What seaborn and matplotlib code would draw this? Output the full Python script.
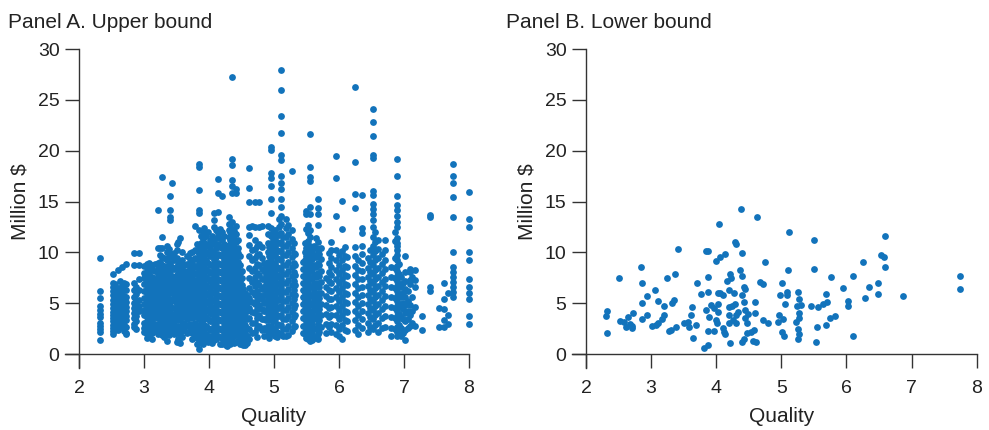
import pandas as pd
import seaborn as sns
import matplotlib
matplotlib.use("Agg")
import matplotlib.pyplot as plt

# ------------------------------------------------------------
# Panel A : upper bound (points grouped by quality column)
# ------------------------------------------------------------
a_quality = [2.33, 2.52, 2.60, 2.66, 2.72, 2.85, 2.93, 3.05, 3.12, 3.22,
             3.27, 3.35, 3.40, 3.43, 3.50, 3.56, 3.62, 3.70, 3.78, 3.85,
             3.90, 3.96, 4.02, 4.08, 4.14, 4.20, 4.26, 4.31, 4.36, 4.42,
             4.47, 4.53, 4.58, 4.62, 4.70, 4.77, 4.85, 4.90, 4.95, 5.02,
             5.07, 5.11, 5.18, 5.27, 5.33, 5.45, 5.50, 5.55, 5.61, 5.67,
             5.72, 5.80, 5.88, 5.96, 6.05, 6.12, 6.24, 6.36, 6.44, 6.53,
             6.60, 6.71, 6.80, 6.89, 6.96, 7.02, 7.10, 7.17, 7.28, 7.40,
             7.54, 7.62, 7.67, 7.75, 8.00]
a_million = [
    [9.4, 6.2, 5.5, 4.7, 4.3, 3.9, 3.6, 3.1, 2.8, 2.5, 2.2, 1.4],
    [7.9, 7.0, 6.6, 6.2, 5.8, 5.3, 4.9, 4.5, 4.1, 3.8, 3.5, 3.2, 2.9, 2.6, 2.3, 2.0],
    [8.3, 6.5, 6.0, 5.4, 5.0, 4.5, 4.1, 3.8, 3.3, 2.9, 2.4],
    [8.6, 6.8, 5.9, 5.3, 4.8, 4.4, 3.9, 3.5, 3.0],
    [8.9, 6.9, 6.3, 5.6, 5.1, 4.6, 4.2, 3.7, 3.3, 2.7, 2.1, 2.0],
    [9.9, 8.8, 7.0, 6.3, 5.6, 5.0, 4.5, 4.0, 3.5, 3.0, 2.7],
    [9.9, 8.8, 7.4, 6.3, 5.3, 4.7, 4.2],
    [8.9, 8.6, 8.1, 7.7, 7.3, 6.8, 6.4, 6.0, 5.6, 5.2, 4.8, 4.4, 4.0, 3.6, 3.2, 2.8, 2.4, 2.0, 1.6],
    [8.8, 8.3, 7.6, 7.1, 6.6, 6.2, 5.7, 5.3, 4.9, 4.5, 4.1, 3.7, 3.3, 2.9, 2.5, 2.1, 1.5],
    [14.2, 10.4, 9.0, 8.4, 7.8, 7.2, 6.6, 6.0, 5.5, 5.0, 4.5, 4.0, 3.5, 3.0, 2.5, 2.0],
    [17.4, 11.5, 10.4, 9.5, 8.8, 8.1, 7.4, 6.8, 6.1, 5.5, 4.9, 4.3, 3.7, 3.1, 2.5, 1.9],
    [10.6, 10.0, 9.2, 8.5, 7.9, 7.2, 6.6, 6.0, 5.4, 4.8, 4.2, 3.6, 3.0, 2.4, 1.3],
    [15.5, 14.2, 13.5, 13.2, 9.8, 9.0, 8.2, 7.5, 6.8, 6.1, 5.4, 4.7, 4.0, 3.3, 2.6],
    [16.8, 9.5, 8.6, 7.7, 6.9, 6.1, 5.3, 4.5, 3.7, 2.9, 2.1],
    [10.8, 10.2, 9.4, 8.6, 7.8, 7.0, 6.3, 5.6, 4.9, 4.2, 3.5, 2.8, 2.2, 1.2],
    [11.4, 9.0, 8.2, 7.5, 6.8, 6.1, 5.4, 4.7, 4.0, 3.3, 2.6, 1.9, 1.1],
    [8.8, 8.0, 7.3, 6.6, 5.9, 5.2, 4.5, 3.8, 3.1, 2.4],
    [9.9, 9.3, 8.6, 7.9, 7.2, 6.5, 5.8, 5.1, 4.4, 3.7, 3.0, 2.3],
    [12.6, 10.2, 9.4, 8.7, 8.0, 7.3, 6.6, 5.9, 5.2, 4.5, 3.8, 3.1, 2.4, 1.8],
    [18.7, 18.4, 16.1, 14.2, 13.9, 12.2, 10.6, 9.8, 9.0, 8.3, 7.6, 6.9, 6.2, 5.5, 4.8, 4.1, 3.4, 2.7, 2.0, 1.4, 0.5],
    [12.0, 11.3, 10.5, 9.7, 8.9, 8.1, 7.3, 6.5, 5.7, 4.9, 4.1, 3.3, 2.5, 1.7, 1.0],
    [11.6, 10.8, 10.0, 9.2, 8.4, 7.6, 6.8, 6.0, 5.2, 4.4, 3.6, 2.8, 2.0, 1.3],
    [11.2, 10.4, 9.6, 8.8, 8.0, 7.2, 6.4, 5.6, 4.8, 4.0, 3.2, 2.4, 1.6],
    [13.9, 13.2, 12.5, 11.0, 10.0, 9.2, 8.4, 7.6, 6.8, 6.0, 5.2, 4.4, 3.6, 2.8, 2.0, 1.4],
    [17.2, 15.8, 14.0, 11.9, 10.8, 9.8, 9.0, 8.2, 7.4, 6.6, 5.8, 5.0, 4.2, 3.4, 2.6, 1.8],
    [15.5, 12.0, 11.2, 10.4, 9.6, 8.8, 8.0, 7.2, 6.4, 5.6, 4.8, 4.0, 3.2, 2.4, 1.6, 1.0],
    [10.6, 9.9, 9.1, 8.3, 7.5, 6.7, 5.9, 5.1, 4.3, 3.5, 2.7, 1.9, 1.2, 0.9],
    [13.5, 12.8, 12.2, 11.5, 10.7, 9.9, 9.1, 8.3, 7.5, 6.7, 5.9, 5.1, 4.3, 3.5, 2.7, 1.9, 1.1],
    [27.2, 19.2, 18.6, 17.1, 16.5, 15.8, 13.0, 12.3, 11.6, 10.9, 10.2, 9.4, 8.6, 7.8, 7.0, 6.2, 5.4, 4.6, 3.8, 3.0, 2.2, 1.4],
    [16.2, 15.8, 12.6, 11.8, 11.0, 10.2, 9.4, 8.6, 7.8, 7.0, 6.2, 5.4, 4.6, 3.8, 3.0, 2.2, 1.2],
    [9.6, 8.8, 8.0, 7.2, 6.4, 5.6, 4.8, 4.0, 3.2, 2.4, 1.6, 1.0],
    [6.4, 5.6, 4.8, 4.0, 3.2, 2.4, 1.6, 0.9],
    [5.8, 5.0, 4.2, 3.4, 2.6, 1.8, 1.1],
    [18.3, 16.3, 15.0, 12.5, 11.7, 10.7, 9.6, 8.5, 7.5, 6.5, 5.5, 4.5, 3.5, 2.5, 1.5],
    [15.0, 12.5, 11.2, 10.3, 9.4, 8.5, 7.6, 6.7, 5.8, 4.9, 4.0, 3.1, 2.2],
    [15.0, 12.5, 10.8, 9.8, 8.8, 7.8, 6.8, 5.8, 4.8, 3.8, 2.8],
    [9.0, 8.2, 7.4, 6.6, 5.8, 5.0, 4.2, 3.4, 2.6, 1.8],
    [12.6, 11.8, 10.9, 10.0, 9.1, 8.2, 7.3, 6.4, 5.5, 4.6, 3.7, 2.8, 1.9],
    [20.4, 20.1, 17.8, 17.3, 16.5, 15.2, 13.9, 12.4, 11.6, 10.8, 10.0, 9.2, 8.4, 7.6, 6.8, 6.0, 5.2, 4.4, 3.6, 2.8, 2.0],
    [12.2, 11.4, 10.6, 9.8, 9.0, 8.2, 7.4, 6.6, 5.8, 5.0, 4.2, 3.4, 2.6, 1.8],
    [13.3, 12.5, 11.7, 10.9, 10.1, 9.3, 8.5, 7.7, 6.9, 6.1, 5.3, 4.5, 3.7, 2.9, 2.1],
    [27.9, 26.0, 23.4, 21.7, 19.6, 19.1, 17.5, 16.8, 16.2, 15.2, 14.5, 13.6, 12.8, 11.9, 11.0, 10.1, 9.2, 8.3, 7.4, 6.5, 5.6, 4.7, 3.8, 2.9, 2.0],
    [13.3, 12.4, 11.5, 10.6, 9.7, 8.8, 7.9, 7.0, 6.1, 5.2, 4.3, 3.4, 2.5, 1.8],
    [18.0, 12.2, 11.3, 10.4, 9.5, 8.6, 7.7, 6.8, 5.9, 5.0, 4.1, 3.2, 2.3],
    [9.8, 8.8, 7.8, 6.8, 5.8, 4.8, 3.8, 2.8],
    [9.1, 8.4, 7.7, 7.0, 6.3, 5.6, 4.9, 4.2, 3.5, 2.8, 2.1],
    [14.1, 13.8, 12.3, 10.4, 9.6, 8.8, 8.0, 7.2, 6.4, 5.6, 4.8, 4.0, 3.2, 2.4, 1.6],
    [21.6, 18.4, 17.4, 17.0, 14.5, 13.8, 12.2, 11.5, 10.6, 9.8, 9.0, 8.2, 7.4, 6.6, 5.8, 5.0, 4.2, 3.4, 2.6, 1.8, 1.3],
    [10.6, 9.7, 8.8, 7.9, 7.0, 6.1, 5.2, 4.3, 3.4, 2.5, 1.6],
    [15.2, 14.4, 13.8, 12.7, 11.0, 10.0, 9.0, 8.0, 7.0, 6.0, 5.0, 4.0, 3.0, 2.0, 1.5],
    [10.4, 9.3, 8.2, 7.1, 6.0, 4.9, 3.8, 2.7],
    [7.5, 6.6, 5.7, 4.8, 3.9, 3.0, 2.1],
    [11.0, 10.2, 9.4, 8.6, 7.8, 7.0, 6.2, 5.4, 4.6, 3.8, 3.0, 2.2],
    [19.5, 17.3, 13.6, 10.2, 9.2, 8.3, 7.4, 6.5, 5.6, 4.7, 3.8, 2.9, 2.0],
    [15.1, 12.3, 10.1, 9.2, 8.3, 7.4, 6.5, 5.6, 4.7, 3.8, 2.9, 1.5],
    [9.5, 8.6, 7.7, 6.8, 5.9, 5.0, 4.1, 3.2, 2.3],
    [26.3, 18.9, 15.7, 14.4, 10.5, 9.6, 8.7, 7.8, 6.9, 6.0, 5.1, 4.2, 3.3, 2.4],
    [15.6, 12.4, 11.9, 10.6, 9.8, 9.0, 8.2, 7.4, 6.6, 5.8, 5.0, 4.2, 3.4, 2.6],
    [9.4, 8.5, 7.6, 6.7, 5.8, 4.9, 4.0, 3.1, 2.2],
    [24.1, 22.8, 21.4, 19.6, 19.3, 16.0, 15.6, 14.8, 14.3, 13.8, 13.2, 12.5, 11.5, 10.6, 9.7, 8.8, 7.9, 7.0, 6.1, 5.2, 4.3, 3.4, 2.5],
    [11.2, 10.3, 9.4, 8.5, 7.6, 6.7, 5.8, 4.9, 4.0, 3.1, 2.2],
    [11.2, 10.2, 9.2, 8.4, 7.4, 6.7, 5.7, 4.7, 3.7, 2.7],
    [8.6, 7.6, 6.6, 5.6, 4.6, 3.6, 2.6, 1.8],
    [19.2, 17.5, 15.5, 14.7, 14.2, 13.6, 13.0, 12.5, 11.4, 10.9, 10.6, 10.2, 9.7, 9.2, 8.7, 8.2, 7.7, 7.2, 6.7, 6.2, 5.7, 5.2, 4.7, 4.2, 3.7, 3.2, 2.7, 2.2, 1.8],
    [7.6, 6.6, 5.6, 4.6, 3.6, 2.6, 1.8],
    [9.6, 8.1, 7.2, 6.4, 5.6, 4.8, 4.0, 3.2, 2.4, 1.4],
    [8.4, 8.1, 7.3, 6.9, 4.8, 3.8, 2.8],
    [8.3, 7.3, 6.6, 4.6, 2.8],
    [3.7, 2.4],
    [13.7, 13.5, 6.6, 6.2],
    [4.5, 2.7],
    [7.0, 5.4, 4.4, 3.3, 2.7],
    [6.0, 3.8, 3.0],
    [18.7, 17.5, 16.8, 15.4, 13.5, 10.0, 8.6, 8.1, 7.6, 7.1, 6.6, 6.1, 5.6],
    [15.9, 13.3, 12.5, 10.0, 9.2, 7.4, 6.6, 6.0, 5.4, 3.7, 3.0],
]

# extra columns filling the dense band of panel A
a2_quality = [2.55, 2.63, 2.69, 2.88, 3.00, 3.08, 3.17, 3.25, 3.31, 3.38,
              3.46, 3.53, 3.59, 3.66, 3.74, 3.81, 3.87, 3.93, 3.99, 4.05,
              4.11, 4.17, 4.23, 4.28, 4.33, 4.39, 4.45, 4.50, 4.56, 4.66,
              4.74, 4.81, 4.88, 4.92, 4.98, 5.05, 5.14, 5.22, 5.30,
              5.48, 5.53, 5.58, 5.64, 5.70, 5.84, 6.00, 6.09,
              6.30, 6.48, 6.56, 6.66, 6.86, 6.92, 6.99,
              7.06, 7.13]
a2_million = [
    [6.9, 6.3, 5.6, 5.1, 4.6, 4.2, 3.7, 3.3, 2.8, 2.4],
    [7.2, 6.2, 5.7, 4.9, 4.3, 3.6, 3.1, 2.7],
    [7.0, 6.4, 5.7, 5.2, 4.7, 4.0, 3.4, 2.9, 2.3],
    [6.6, 5.9, 5.3, 4.8, 4.2, 3.7, 3.2, 2.5],
    [8.7, 8.0, 7.5, 6.9, 6.2, 5.5, 4.9, 4.3, 3.8, 3.1, 2.6, 2.2],
    [9.0, 8.4, 7.9, 7.0, 6.5, 5.9, 5.4, 5.0, 4.6, 4.2, 3.8, 3.4, 3.0, 2.6, 2.2, 1.8],
    [8.9, 8.2, 7.4, 6.9, 6.4, 5.8, 5.2, 4.7, 4.1, 3.6, 3.0, 2.7, 2.3],
    [10.4, 9.7, 9.1, 8.6, 7.9, 7.3, 6.7, 6.3, 5.8, 5.2, 4.7, 4.1, 3.4, 2.8, 2.2],
    [9.4, 8.7, 8.2, 7.7, 7.0, 6.4, 5.9, 5.2, 4.6, 4.0, 3.4, 2.9, 2.2, 1.7],
    [10.3, 9.6, 8.9, 8.1, 7.3, 6.6, 6.0, 5.4, 4.9, 4.3, 3.7, 3.1, 2.5, 1.9],
    [9.9, 9.2, 8.4, 7.6, 7.2, 6.5, 5.8, 5.2, 4.5, 3.9, 3.2, 2.6, 2.0],
    [11.0, 8.9, 8.0, 7.3, 6.6, 5.9, 5.2, 4.6, 3.9, 3.3, 2.7, 2.1, 1.5],
    [10.0, 9.2, 8.5, 7.8, 7.1, 6.3, 5.6, 5.0, 4.3, 3.6, 2.9, 2.3, 1.7],
    [9.6, 8.9, 8.2, 7.6, 6.9, 6.2, 5.5, 4.8, 4.1, 3.4, 2.8, 2.1],
    [10.0, 9.1, 8.4, 7.7, 7.0, 6.3, 5.6, 4.9, 4.2, 3.5, 2.8, 2.1, 1.5],
    [10.8, 10.1, 9.3, 8.6, 7.9, 7.1, 6.4, 5.7, 5.0, 4.3, 3.6, 2.9, 2.2, 1.6, 1.0],
    [11.6, 10.9, 10.2, 9.4, 8.6, 7.9, 7.2, 6.5, 5.8, 5.1, 4.4, 3.7, 3.0, 2.3, 1.7, 1.1],
    [12.4, 11.7, 10.9, 10.1, 9.3, 8.5, 7.7, 6.9, 6.1, 5.3, 4.5, 3.7, 2.9, 2.1, 1.5],
    [12.0, 10.6, 9.8, 9.0, 8.2, 7.4, 6.6, 5.8, 5.0, 4.2, 3.4, 2.6, 1.8, 1.2],
    [11.6, 10.8, 10.0, 9.6, 8.8, 8.1, 7.4, 6.7, 6.0, 5.3, 4.6, 3.9, 3.2, 2.5, 1.8, 1.1],
    [12.2, 11.4, 10.4, 9.5, 8.7, 7.9, 7.1, 6.3, 5.5, 4.7, 3.9, 3.1, 2.3, 1.5],
    [12.3, 11.4, 10.5, 9.7, 8.9, 8.1, 7.3, 6.5, 5.7, 4.9, 4.1, 3.3, 2.5, 1.7, 1.0],
    [11.6, 10.8, 10.0, 9.2, 8.4, 7.6, 6.8, 6.0, 5.2, 4.4, 3.6, 2.8, 2.0, 1.3],
    [10.2, 9.5, 8.7, 7.9, 7.1, 6.3, 5.5, 4.7, 3.9, 3.1, 2.3, 1.5, 0.8],
    [12.8, 12.0, 11.2, 10.4, 9.5, 8.7, 7.9, 7.1, 6.3, 5.5, 4.7, 3.9, 3.1, 2.3, 1.6, 1.0],
    [12.1, 11.3, 10.5, 9.8, 9.0, 8.2, 7.4, 6.6, 5.8, 5.0, 4.2, 3.4, 2.6, 1.8, 1.1],
    [11.2, 10.4, 9.9, 9.1, 8.3, 7.5, 6.7, 5.9, 5.1, 4.3, 3.5, 2.7, 1.9, 1.3],
    [8.2, 7.5, 6.8, 6.0, 5.2, 4.4, 3.6, 2.8, 2.0, 1.3],
    [6.0, 5.3, 4.5, 3.7, 2.9, 2.1, 1.4, 0.9],
    [12.6, 10.2, 9.2, 8.2, 7.1, 6.1, 5.1, 4.1, 3.1, 2.1],
    [10.6, 9.7, 8.9, 8.0, 7.1, 6.2, 5.3, 4.4, 3.5, 2.6, 1.7],
    [12.6, 10.5, 9.4, 8.4, 7.4, 6.4, 5.4, 4.4, 3.4, 2.4],
    [8.7, 7.8, 6.9, 6.0, 5.1, 4.2, 3.3, 2.4],
    [10.5, 9.6, 8.7, 7.8, 6.9, 6.0, 5.1, 4.2, 3.3, 2.4, 1.6],
    [12.0, 11.2, 10.4, 9.6, 8.8, 8.0, 7.2, 6.4, 5.6, 4.8, 4.0, 3.2, 2.4],
    [11.8, 11.0, 10.2, 9.4, 8.6, 7.8, 7.0, 6.2, 5.4, 4.6, 3.8, 3.0, 2.2, 1.7],
    [11.5, 10.6, 9.7, 8.8, 7.9, 7.0, 6.1, 5.2, 4.3, 3.4, 2.5, 1.8],
    [12.7, 11.8, 10.9, 10.0, 9.1, 8.2, 7.3, 6.4, 5.5, 4.6, 3.7, 2.8, 1.9],
    [10.9, 9.9, 9.0, 8.1, 7.2, 6.3, 5.4, 4.5, 3.6, 2.7],
    [10.9, 10.0, 9.2, 8.4, 7.6, 6.8, 6.0, 5.2, 4.4, 3.6, 2.8, 2.0],
    [12.7, 11.9, 11.1, 10.2, 9.4, 8.6, 7.8, 7.0, 6.2, 5.4, 4.6, 3.8, 3.0, 2.2, 1.5],
    [10.2, 9.3, 8.4, 7.5, 6.6, 5.7, 4.8, 3.9, 3.0, 2.1, 1.4],
    [11.4, 10.4, 9.5, 8.6, 7.6, 6.6, 5.6, 4.6, 3.6, 2.6, 1.7],
    [9.8, 8.8, 7.7, 6.6, 5.5, 4.4, 3.3, 2.2],
    [9.9, 9.0, 8.1, 7.2, 6.3, 5.4, 4.5, 3.6, 2.7],
    [9.7, 8.8, 7.9, 7.0, 6.1, 5.2, 4.3, 3.4, 2.5, 1.8],
    [10.5, 9.6, 8.7, 7.8, 6.9, 6.0, 5.1, 4.2, 3.3, 2.4],
    [9.2, 8.3, 7.4, 6.5, 5.6, 4.7, 3.8, 2.9, 2.0],
    [10.2, 9.1, 8.1, 7.2, 6.3, 5.4, 4.5, 3.6, 2.7],
    [12.0, 11.0, 10.1, 9.2, 8.3, 7.4, 6.5, 5.6, 4.7, 3.8, 2.9],
    [9.8, 8.9, 8.0, 7.1, 6.2, 5.3, 4.4, 3.5, 2.6],
    [12.0, 11.1, 9.4, 8.5, 7.5, 6.5, 5.5, 4.5, 3.5, 2.5],
    [8.9, 7.9, 6.9, 5.9, 4.9, 3.9, 2.9, 2.0],
    [7.0, 6.0, 5.0, 4.4, 3.4, 2.1],
    [6.2, 5.2, 4.2, 3.4, 2.6],
    [7.6, 5.6, 4.2, 3.1],
]

# ------------------------------------------------------------
# Panel B : lower bound
# ------------------------------------------------------------
b_quality = [2.31, 2.33, 2.33, 2.51, 2.53, 2.58, 2.61, 2.65, 2.67, 2.70,
             2.72, 2.71, 2.84, 2.86, 2.86, 2.86, 2.93, 2.94, 3.02, 3.06,
             3.08, 3.11, 3.11, 3.17, 3.20, 3.20, 3.25, 3.27, 3.31, 3.32,
             3.35, 3.36, 3.39, 3.41, 3.50, 3.56, 3.58, 3.61, 3.63, 3.65,
             3.69, 3.70, 3.76, 3.82, 3.84, 3.85, 3.88, 3.87, 3.88, 3.87,
             3.88, 3.89, 3.92, 3.96, 3.97, 3.99, 3.99, 4.01, 4.02, 4.02,
             4.03, 4.05, 4.06, 4.06, 4.11, 4.11, 4.12, 4.13, 4.14, 4.16,
             4.20, 4.20, 4.20, 4.20, 4.21, 4.21, 4.23, 4.24, 4.26, 4.28,
             4.29, 4.30, 4.29, 4.30, 4.30, 4.34, 4.37, 4.38, 4.39, 4.39,
             4.40, 4.42, 4.43, 4.40, 4.43, 4.44, 4.45, 4.45, 4.47, 4.48,
             4.49, 4.53, 4.56, 4.58, 4.59, 4.60, 4.61, 4.62, 4.67, 4.72,
             4.72, 4.75, 4.79, 4.95, 4.97, 4.98, 5.01, 5.02, 5.01, 5.04,
             5.05, 5.08, 5.08, 5.11, 5.12, 5.22, 5.24, 5.26, 5.27, 5.27,
             5.27, 5.26, 5.27, 5.26, 5.31, 5.45, 5.50, 5.50, 5.54, 5.55,
             5.57, 5.64, 5.68, 5.68, 5.70, 5.75, 5.76, 5.82, 5.95, 6.02,
             6.02, 6.10, 6.10, 6.25, 6.29, 6.35, 6.48, 6.49, 6.53, 6.57,
             6.59, 6.59, 6.87, 7.75, 7.75]
b_million = [3.74, 4.27, 2.03, 7.48, 3.25, 3.18, 2.69, 3.68, 2.95, 2.53,
             4.00, 2.76, 8.53, 7.02, 5.05, 3.41, 3.81, 5.71, 2.76, 6.30,
             2.86, 5.22, 3.02, 3.45, 4.73, 3.81, 7.48, 2.23, 2.36, 4.99,
             5.32, 7.88, 2.63, 10.37, 3.08, 3.18, 2.69, 3.81, 4.66, 1.61,
             2.86, 6.96, 5.91, 0.62, 4.33, 10.11, 10.17, 7.55, 6.10, 2.23,
             0.92, 3.61, 4.82, 2.26, 4.50, 3.35, 9.16, 3.02, 4.92, 6.04,
             4.17, 12.77, 9.52, 5.97, 5.81, 2.53, 2.20, 9.81, 1.94, 7.22,
             6.30, 4.59, 3.84, 3.02, 1.12, 7.88, 7.45, 4.73, 3.35, 6.04,
             11.06, 10.83, 4.92, 3.84, 3.02, 4.17, 8.27, 14.24, 5.84, 9.91,
             7.68, 6.63, 5.12, 1.18, 1.44, 4.33, 3.51, 6.43, 2.10, 3.08,
             3.94, 2.20, 1.31, 2.36, 5.15, 4.07, 1.21, 13.46, 7.12, 3.35,
             6.89, 9.06, 3.02, 3.18, 3.84, 5.81, 7.02, 3.41, 2.20, 1.77,
             4.92, 6.14, 5.81, 8.27, 12.01, 3.18, 4.73, 6.14, 5.38, 4.00,
             3.51, 2.43, 1.94, 1.51, 4.82, 4.73, 8.40, 11.19, 1.21, 2.69,
             4.66, 4.92, 5.91, 2.86, 5.15, 3.51, 7.61, 3.74, 6.47, 5.25,
             4.73, 1.81, 7.68, 9.09, 5.55, 6.63, 6.96, 5.91, 9.75, 9.52,
             11.62, 8.60, 5.74, 7.68, 6.37]

x_ticks = [2, 3, 4, 5, 6, 7, 8]
y_ticks = [0, 5, 10, 15, 20, 25, 30]
titles = ["Panel A. Upper bound", "Panel B. Lower bound"]

# build long tables
rows = []
for qs, ms in [(a_quality, a_million), (a2_quality, a2_million)]:
    for q, vals in zip(qs, ms):
        for v in vals:
            rows.append((q, v))
df_a = pd.DataFrame(rows, columns=["quality", "million"])
df_b = pd.DataFrame({"quality": b_quality, "million": b_million})

sns.set_style("ticks")
plt.rcParams["font.family"] = ["Liberation Sans", "DejaVu Sans"]

blue = "#1273BB"
fig = plt.figure(figsize=(9.89, 4.30), dpi=100)
ax_a = fig.add_axes([0.0799, 0.1767, 0.3943, 0.7093])
ax_b = fig.add_axes([0.5925, 0.1767, 0.3950, 0.7093])

for ax, df, title, tx in [(ax_a, df_a, titles[0], 0.008), (ax_b, df_b, titles[1], 0.512)]:
    sns.scatterplot(data=df, x="quality", y="million", ax=ax, color=blue,
                    s=24, linewidth=0, alpha=1, clip_on=False)
    ax.set_xlim(2, 8)
    ax.set_ylim(0, 30)
    ax.set_xticks(x_ticks)
    ax.set_yticks(y_ticks)
    ax.tick_params(direction="out", length=10, width=1, color="#333333",
                   labelsize=14, labelcolor="#222222")
    ax.tick_params(axis="x", pad=9)
    ax.tick_params(axis="y", pad=4)
    for side in ["top", "right"]:
        ax.spines[side].set_visible(False)
    for side in ["left", "bottom"]:
        ax.spines[side].set_linewidth(1)
        ax.spines[side].set_color("#333333")
    # axis lines meet at the tick ends
    ax.spines["bottom"].set_bounds(2 - 14 / 65, 8)
    ax.spines["left"].set_bounds(-14 / 10.17, 30)
    ax.set_xlabel("Quality", fontsize=15, labelpad=7, color="#222222")
    ax.set_ylabel("Million \\$", fontsize=15, labelpad=6, color="#222222")
    fig.text(tx, 0.935, title, fontsize=15, color="#222222", ha="left")

fig.savefig("out.png", dpi=100)
